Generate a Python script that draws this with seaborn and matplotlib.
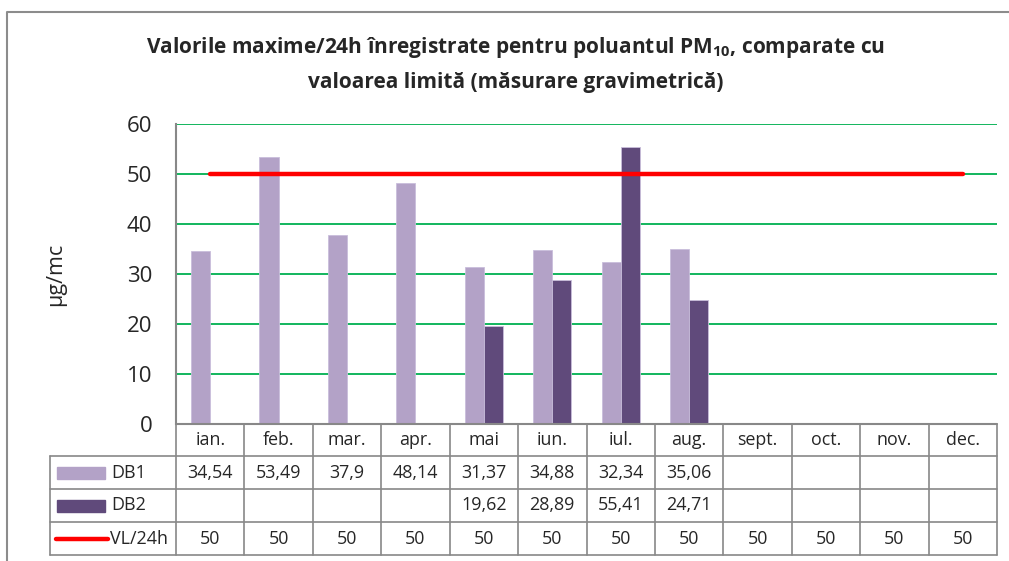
import matplotlib
matplotlib.use("Agg")
import matplotlib.pyplot as plt
import matplotlib.transforms as mtransforms
from matplotlib.lines import Line2D
from matplotlib.patches import Rectangle
import seaborn as sns
import pandas as pd
import numpy as np

# data
months = ["ian.", "feb.", "mar.", "apr.", "mai", "iun.", "iul.", "aug.",
          "sept.", "oct.", "nov.", "dec."]
db1 = [34.54, 53.49, 37.9, 48.14, 31.37, 34.88, 32.34, 35.06,
       None, None, None, None]
db2 = [None, None, None, None, 19.62, 28.89, 55.41, 24.71,
       None, None, None, None]
vl = [50] * 12
series = ["DB1", "DB2"]

c_db1 = "#b3a2c7"
c_db2 = "#604a7b"
c_grid = "#00b050"
c_line = "#888888"

FONT = "Open Sans"
sns.set_style("white")
plt.rcParams["font.family"] = [FONT, "DejaVu Sans"]
plt.rcParams["mathtext.fontset"] = "custom"
plt.rcParams["mathtext.rm"] = FONT
plt.rcParams["mathtext.bf"] = FONT + ":bold"

rows = []
for i, m in enumerate(months):
    if db1[i] is not None:
        rows.append({"luna": m, "serie": "DB1", "val": db1[i]})
    if db2[i] is not None:
        rows.append({"luna": m, "serie": "DB2", "val": db2[i]})
df = pd.DataFrame(rows)

W, H = 1009, 561
fig = plt.figure(figsize=(W / 100, H / 100), dpi=100)

def fx(x):
    return x / W

def fy(y):
    return 1 - y / H

ax_l, ax_r, ax_t, ax_b = 176, 997, 124, 424
ax = fig.add_axes([fx(ax_l), fy(ax_b), fx(ax_r - ax_l), (ax_b - ax_t) / H])

sns.barplot(data=df, x="luna", y="val", hue="serie", order=months,
            hue_order=series, palette=[c_db1, c_db2], width=0.56,
            dodge=True, ax=ax, legend=False, linewidth=0.6,
            edgecolor="#c9bedb", saturation=1)
sns.lineplot(x=np.arange(12), y=vl, color="red", linewidth=3.2, ax=ax,
             zorder=3)

ax.set_xlim(-0.5, 11.5)
ax.set_ylim(0, 60)
ax.set_yticks(range(0, 61, 10))
ax.tick_params(axis="y", labelsize=16, length=0, pad=17)
ax.set_xticks([])
ax.set_xlabel("")
ax.set_ylabel("µg/mc", fontsize=15.5)
ax.yaxis.set_label_coords((56 - ax_l) / (ax_r - ax_l), 0.5)
ax.yaxis.label.set_va("center")
ax.yaxis.grid(True, color=c_grid, linewidth=1.3)
ax.set_axisbelow(True)
for s in ["top", "right", "bottom"]:
    ax.spines[s].set_visible(False)
ax.spines["left"].set_color(c_line)
ax.spines["left"].set_linewidth(1.5)

# title
fig.text(fx(516), fy(48), "Valorile maxime/24h înregistrate pentru poluantul "
         "PM$_{\\mathbf{10}}$, comparate cu",
         ha="center", va="center", fontsize=15, fontweight="bold")
fig.text(fx(516), fy(82), "valoarea limită (măsurare gravimetrică)",
         ha="center", va="center", fontsize=15, fontweight="bold")

# outer border (left and top edges)
fig.add_artist(Line2D([fx(7), fx(7), fx(1009)], [fy(561), fy(12), fy(12)],
                      color="#8c8c8c", linewidth=1.5))

# data table
cw = (ax_r - ax_l) / 12
row_y = [424, 456, 489, 522, 555]
tbl_l = 50
lw = 1.2
fig.add_artist(Line2D([fx(ax_l), fx(ax_r)], [fy(424), fy(424)],
                      color=c_line, linewidth=1.5))
for y in row_y[1:]:
    fig.add_artist(Line2D([fx(tbl_l), fx(ax_r)], [fy(y), fy(y)],
                          color=c_line, linewidth=lw))
fig.add_artist(Line2D([fx(tbl_l), fx(tbl_l)], [fy(456), fy(555)],
                      color=c_line, linewidth=lw))
for k in range(13):
    x = ax_l + k * cw
    fig.add_artist(Line2D([fx(x), fx(x)], [fy(424), fy(555)],
                          color=c_line, linewidth=lw))

def fmt(v):
    if v is None:
        return ""
    return ("%g" % v).replace(".", ",")

tsize = 12.9
trans = mtransforms.blended_transform_factory(ax.transData, fig.transFigure)
centers = [(row_y[j] + row_y[j + 1]) / 2 for j in range(4)]
for i, m in enumerate(months):
    ax.text(i, fy(centers[0]), m, transform=trans, ha="center",
            va="center", fontsize=tsize, clip_on=False)
    ax.text(i, fy(centers[1]), fmt(db1[i]), transform=trans, ha="center",
            va="center", fontsize=tsize, clip_on=False)
    ax.text(i, fy(centers[2]), fmt(db2[i]), transform=trans, ha="center",
            va="center", fontsize=tsize, clip_on=False)
    ax.text(i, fy(centers[3]), fmt(vl[i]), transform=trans, ha="center",
            va="center", fontsize=tsize, clip_on=False)

# legend keys in table
for j, (lab, col) in enumerate(zip(series, [c_db1, c_db2])):
    cy = centers[j + 1]
    fig.add_artist(Rectangle((fx(57), fy(cy + 6)), fx(48), 12 / H,
                             color=col, transform=fig.transFigure))
    fig.text(fx(111), fy(cy), lab, ha="left", va="center", fontsize=tsize)
fig.add_artist(Line2D([fx(56), fx(108)], [fy(centers[3]), fy(centers[3])],
                      color="red", linewidth=3.2, solid_capstyle="round"))
fig.text(fx(110), fy(centers[3]), "VL/24h", ha="left", va="center",
         fontsize=tsize)

fig.savefig("out.png", dpi=100)
